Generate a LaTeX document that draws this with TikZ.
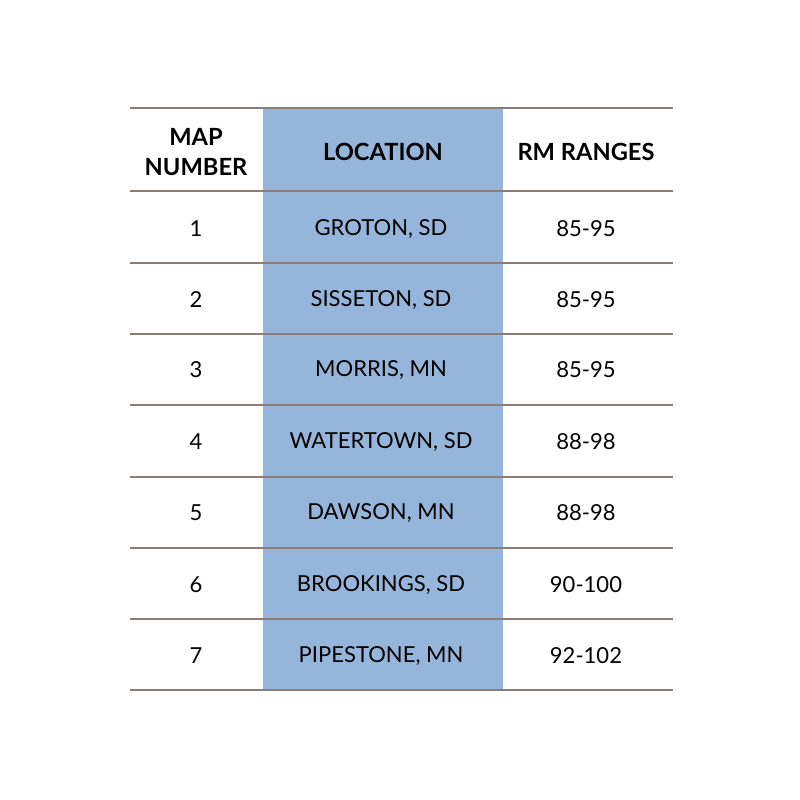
\documentclass[tikz,border=0pt]{standalone}
\usepackage{fontspec}
\setmainfont{Lato}
\definecolor{locblue}{HTML}{95B6DA}
\definecolor{rulebrown}{HTML}{8A7F78}
\begin{document}
\begin{tikzpicture}[x=0.03cm,y=-0.03cm,font=\fontsize{18.8}{22}\selectfont,
	hd/.style={font=\fontsize{20.2}{25.5}\selectfont\bfseries,align=center},
	rule/.style={line width=0.9pt,rulebrown}]
		\useasboundingbox[fill=white] (0,0) rectangle (800,800);
		\fill[locblue] (263,108) rectangle (503,690);
		\foreach \y in {108,191,263,334,405,477,548,619,690}\draw[rule] (130,\y)--(673,\y);
		\node[hd] (hmap) at (196,152) {MAP\\NUMBER};
		\node[hd] (hloc) at (383,152) {LOCATION};
		\node[hd] (hrm) at (586,152) {RM RANGES};
		\foreach \n/\y/\loc/\rm in {1/229/{GROTON, SD}/85-95,2/300/{SISSETON, SD}/85-95,3/370/{MORRIS, MN}/85-95,4/442/{WATERTOWN, SD}/88-98,5/513/{DAWSON, MN}/88-98,6/585/{BROOKINGS, SD}/90-100,7/656/{PIPESTONE, MN}/92-102}{
			\node (num\n) at (196,\y) {\n};
			\node (loc\n) at (381,\y) {\loc};
			\node (rm\n) at (586,\y) {\rm};
		}
\end{tikzpicture}
\end{document}
